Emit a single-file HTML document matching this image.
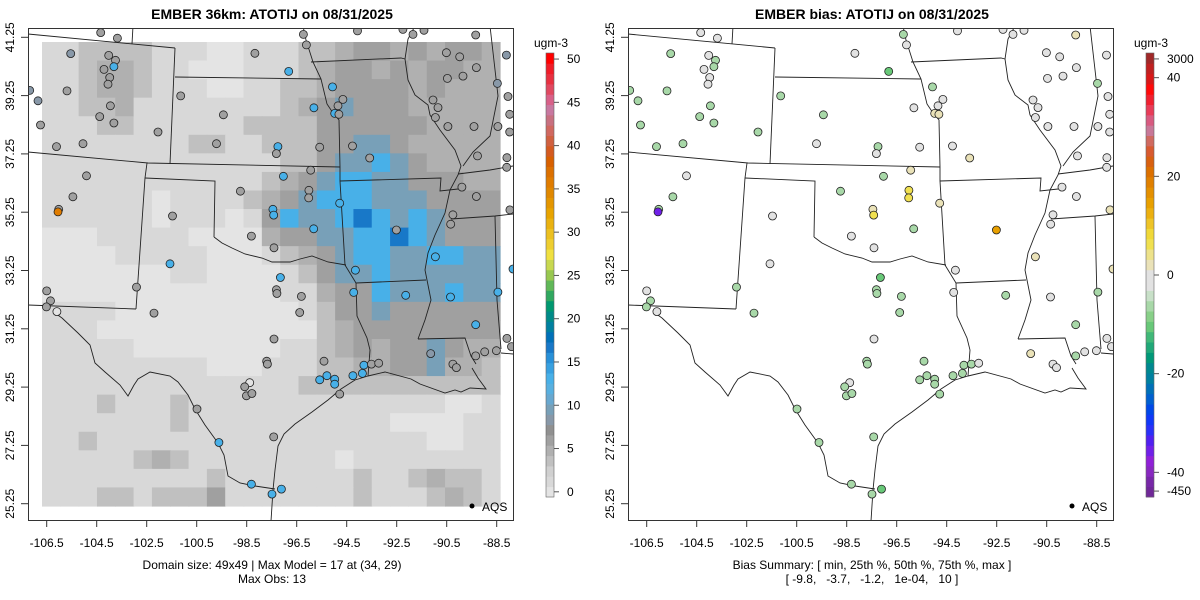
<!DOCTYPE html>
<html><head><meta charset="utf-8"><style>
html,body{margin:0;padding:0;background:#fff;}
svg{display:block;font-family:"Liberation Sans",sans-serif;}
</style></head><body>
<svg id="root" width="1200" height="600" viewBox="0 0 1200 600" xmlns="http://www.w3.org/2000/svg">
<defs>
<clipPath id="clipL"><rect x="28" y="28" width="485" height="493"/></clipPath>
<clipPath id="clipR"><rect x="628" y="28" width="485" height="493"/></clipPath>
</defs>
</svg>
<script>
// ---------- DATA ----------
const lonTicks = [-106.5,-104.5,-102.5,-100.5,-98.5,-96.5,-94.5,-92.5,-90.5,-88.5];
const latTicks = [41.25,39.25,37.25,35.25,33.25,31.25,29.25,27.25,25.25];
const concTicks = [0,5,10,15,20,25,30,35,40,45,50];
const biasTickVals = [43.8,40,20,0,-20,-40,-43.8];
const biasTickLabels = ["3000","40","20","0","-20","-40","-450"];
const concColors = ["#e4e4e4","#d8d8d8","#d0d0d0","#c0c0c0","#b0b0b0","#a0a0a0","#909090","#8898a8","#78a0b8","#68a8d0","#58b0e0","#48b0e8","#38a0e0","#2890d8","#1878c8","#0070b8","#0080a0","#008a88","#009870","#30a860","#60b858","#98c850","#c8d850","#f0e040","#eece30","#ecc020","#eab210","#e8a400","#e49600","#e08800","#e07c00","#dc7000","#d86000","#d45a20","#d06040","#d06860","#c87080","#c878a0","#d86088","#e04860","#e83040","#f01c28","#ff0000"];
const biasColors = ["#702898","#7828a8","#8828c0","#9020d8","#7020e8","#5020f0","#2a30f8","#1038f8","#0048e8","#0060d0","#0070b8","#0080a0","#008890","#009878","#20a878","#40b878","#68c878","#88d088","#a8d8a8","#c8e0c8","#e2e2e2","#e2e2e2","#eae2b8","#ede28a","#f0e050","#f0d838","#eec428","#ecb010","#e8a000","#e49000","#e08000","#dc7000","#d86010","#d85a30","#d06a60","#c87898","#d85a80","#e83c58","#f02030","#ff0a0a","#d81818","#c02020","#a02828"];
// model grid (coarse), digits index into levelValues (ugm-3)
const levelValues = [0,1.5,3,5,6.2,10,13,17];
const gridRows = [
"1122221110011122344343443","1123321100011123443434433","1123321110011223444434333",
"1122311111111234544433333","1112211111122224444443333","1111111122112224455433333",
"1111111111111224556543333","1111111111112345665544433","1111110111123456665554444",
"1111110111014655676565444","0001111100003445566765444","0000111110001234566556655",
"0000000110000124556555555","0000000000000113446555655","1111000000000012445444444",
"1110000000000002344444444","1111100000000112343445433","1111111110001112233445332",
"1111111111111122222222222","1112111211111111111111001","1111111211111111111000011",
"1121111111111111111110011","1111123211111111011111111","1111111112111111121123221",
"1112212224111111121112321"];
// stations
const stLon = [-104.34,-103.67,-105.54,-104.02,-103.75,-103.81,-104.21,-103.98,-104.05,-105.69,-107.18,-106.85,-103.95,-104.38,-103.81,-106.75,-106.11,-105.05,-102.05,-101.14,-99.43,-99.71,-98.17,-96.82,-96.23,-96.11,-94.07,-92.25,-91.85,-91.41,-89.34,-95.07,-94.65,-95.81,-94.85,-94.98,-94.81,-90.51,-89.98,-89.31,-90.47,-89.85,-88.11,-88.47,-88.05,-91.05,-90.85,-90.95,-90.45,-89.41,-88.45,-87.98,-87.98,-97.25,-97.31,-95.58,-94.27,-93.58,-95.94,-97.03,-89.27,-88.09,-88.10,-104.91,-105.45,-106.02,-106.05,-98.75,-96.01,-96.02,-94.78,-97.45,-97.42,-89.89,-89.31,-87.97,-90.25,-90.34,-101.47,-95.82,-98.31,-92.51,-97.41,-101.57,-90.95,-94.15,-97.15,-87.85,-97.31,-97.29,-96.31,-94.22,-92.14,-90.35,-88.45,-102.91,-106.50,-106.35,-106.51,-106.09,-102.21,-96.38,-89.34,-97.41,-88.09,-87.91,-88.51,-88.98,-89.34,-91.14,-95.41,-97.70,-97.67,-93.81,-93.51,-93.22,-93.87,-94.25,-90.25,-90.11,-95.58,-95.29,-94.98,-94.98,-98.38,-98.58,-98.51,-98.29,-94.78,-100.49,-99.61,-97.42,-98.31,-97.49,-97.11];
const stLat = [41.41,41.22,40.69,40.63,40.46,40.24,40.15,39.87,39.64,39.41,39.43,39.07,38.90,38.53,38.31,38.24,37.50,37.60,38.00,39.24,38.59,37.60,40.70,40.08,41.35,40.99,41.47,41.52,41.35,41.49,41.33,39.55,39.12,38.83,38.90,38.64,38.61,40.72,40.58,40.21,39.84,39.92,40.64,39.67,39.22,39.10,38.84,38.50,38.19,38.19,38.19,38.61,38.00,37.50,37.26,37.48,37.52,37.11,36.69,36.48,37.18,37.12,36.79,36.50,35.78,35.35,35.26,35.97,36.00,35.74,35.56,35.35,35.15,36.11,35.79,35.33,35.16,34.84,35.12,34.68,34.43,34.64,34.03,33.48,33.72,33.26,33.01,33.30,32.59,32.46,32.36,32.50,32.40,32.34,32.51,32.68,32.55,32.21,32.00,31.84,31.79,31.81,31.39,30.90,30.92,30.64,30.50,30.46,30.32,30.40,30.14,30.14,30.04,30.00,30.04,30.07,29.72,29.64,30.04,29.92,29.50,29.64,29.52,29.35,29.40,29.26,28.95,29.03,29.01,28.50,27.35,27.54,25.92,25.58,25.75];
const stObs = [6,6,8.5,6,6,13,6,6,6,6,8.5,8.5,6,6,6,6,6,6,6,6,6,6,6,13,6,6,6,6,6,6,6,13,6,13,6,13,6,6,6,6,6,6,8.5,8.5,6,6,6,6,6,6,6,6,6,13,6,6,6,6,6,13,6,6,6,6,6,6,36,6,6,6,13,13,13,6,6,6,6,6,6,13,6,6,6,13,13,13,13,13,6,6,6,13,13,13,13,6,6,6,6,0,6,6,13,6,6,6,6,6,6,8.5,6,6,6,13,6,6,13,13,6,6,13,13,13,13,0,6,6,6,6,6,13,6,13,13,13];
const stBias = [0,0,-7,0,-7,-7,0,0,0,-7,-7,-7,-7,-7,-7,-7,-7,-7,-7,-7,-7,0,0,-10,-7,0,0,0,0,0,3,-7,0,0,0,3,3,0,0,0,0,0,0,-7,0,0,0,0,0,0,0,0,0,-7,0,0,0,3,3,-7,0,0,0,0,-7,-7,-35,-7,7,7,3,3,7,0,0,3,0,0,0,-7,0,15,0,0,3,0,-10,3,-7,-7,-7,0,-7,0,-7,-7,0,-7,-7,0,-7,-7,-7,0,0,0,0,0,-7,3,-7,-7,-7,-7,-7,0,-7,-7,0,0,-7,-7,-7,-7,0,-7,-7,-7,-7,-7,-7,-7,-7,-7,-10];

// ---------- SCALES ----------
const NS = "http://www.w3.org/2000/svg";
const root = document.getElementById('root');
const xOf = lon => 46.7 + (lon + 106.5) * 25;
const yOf = lat => 37.3 + (41.25 - lat) * 29.15;
const CMIN=-0.6, CMAX=50.7, BMIN=-45, BMAX=45, BAR_TOP=53, BAR_BOT=497;
const concColor = v => concColors[Math.max(0,Math.min(concColors.length-1,Math.floor((v-CMIN)/(CMAX-CMIN)*concColors.length)))];
const biasColor = v => biasColors[Math.max(0,Math.min(biasColors.length-1,Math.floor((v-BMIN)/(BMAX-BMIN)*biasColors.length)))];
const yConc = v => BAR_BOT - (v-CMIN)/(CMAX-CMIN)*(BAR_BOT-BAR_TOP);
const yBias = v => BAR_BOT - (v-BMIN)/(BMAX-BMIN)*(BAR_BOT-BAR_TOP);

function mk(tag, attrs, parent){
  const e=document.createElementNS(NS,tag);
  for(const k in attrs) e.setAttribute(k,attrs[k]);
  (parent||root).appendChild(e); return e;
}
function txt(parent,x,y,s,size,anchor,extra){
  const t=mk('text',Object.assign({x:x,y:y,'font-size':size,'text-anchor':anchor||'middle',fill:'#000'},extra||{}),parent);
  t.textContent=s; return t;
}

const boundaries = [
 [[28,34],[175,48]],[[133,26],[132,44]],[[175,48],[170,164]],[[175,77],[321,79]],
 [[28,152],[148,163],[340,167]],[[147,163],[145,178],[136,309]],[[28,305],[136,309]],
 [[145,178],[215,181],[214,237]],
 [[214,237],[222,243],[232,248],[245,254],[262,258],[272,262],[290,262],[300,259],[312,256],[328,262],[346,265]],
 [[303,26],[306,40],[313,62],[321,79],[327,104],[333,113],[339,120],[340,167],[340,181],[345,265]],
 [[340,181],[441,178],[440,191],[458,189]],[[356,283],[426,280]],
 [[345,265],[356,283],[357,316],[367,338],[370,350],[368,376]],
 [[368,376],[355,380],[341,389],[328,400],[312,412],[295,424],[284,434],[278,446],[275,470],[273,490],[271,521]],
 [[55,313],[62,318],[78,333],[90,345],[95,363],[105,372],[120,385],[128,396],[134,385],[138,379],[150,372],[170,376],[178,382],[188,395],[195,409],[205,425],[218,443],[224,455],[228,476],[240,483],[255,486],[275,489]],
 [[415,26],[408,39],[405,59],[408,80],[415,95],[428,105],[430,115],[440,130],[455,150],[461,166],[458,175],[450,190],[445,213],[435,235],[428,253],[425,270],[431,300],[425,320],[418,339]],
 [[311,62],[401,58],[405,59]],[[418,339],[465,338],[471,356],[476,364]],
 [[368,376],[385,372],[411,379],[420,384],[445,393],[455,390],[461,392],[470,388],[486,389],[478,378],[472,368]],
 [[458,174],[490,170],[513,166]],[[451,219],[495,216],[513,214]],[[495,216],[497,300],[501,349]],
 [[501,353],[513,354]],[[490,26],[498,96],[490,136],[473,152],[463,166]]
];

function panel(off, kind){
  const g=mk('g',{});
  
  
  const inner=mk('g',{'clip-path': off? 'url(#clipR)':'url(#clipL)'},g);
  if(kind==='conc'){
    const rg=mk('g',{},inner);
    
    
    const x0=42,y0=42,cw=458/25,ch=464/25;
    gridRows.forEach((row,r)=>{
      for(let c=0;c<row.length;c++){
        const v=levelValues[+row[c]];
        const cell=mk('rect',{x:(x0+c*cw).toFixed(2),y:(y0+r*ch).toFixed(2),width:(cw+0.6).toFixed(2),height:(ch+0.6).toFixed(2),fill:concColor(v)},rg);
        
        
      }
    });
  }
  const bg=mk('g',{transform:`translate(${off},0)`,fill:'none',stroke:'#222','stroke-width':'0.9'},inner);
  
  
  boundaries.forEach(b=>{mk('polyline',{points:b.map(p=>p.join(',')).join(' ')},bg);});
  const pg=mk('g',{},inner);
  
  
  for(let i=0;i<stLon.length;i++){
    const col = kind==='conc'? concColor(stObs[i]) : biasColor(stBias[i]);
    const c=mk('circle',{cx:(off+xOf(stLon[i])).toFixed(1),cy:yOf(stLat[i]).toFixed(1),r:4,fill:col,stroke:'#222','stroke-width':'0.8'},pg);
    
    
  }
  const fr=mk('rect',{x:off+28.5,y:28.5,width:485,height:492,fill:'none',stroke:'#333','stroke-width':1},g);
  
  
  const xa=mk('g',{},g);
  
  
  lonTicks.forEach(l=>{
    const x=off+xOf(l);
    mk('line',{x1:x,x2:x,y1:521,y2:527,stroke:'#333'},xa);
    const t=txt(xa,x,547,String(l),12);
    
    
  });
  const ya=mk('g',{},g);
  
  
  latTicks.forEach(l=>{
    const y=yOf(l);
    mk('line',{x1:off+21,x2:off+28.5,y1:y,y2:y,stroke:'#333'},ya);
    const t=txt(ya,off+14,y,l.toFixed(2),12,'middle',{transform:`rotate(-90 ${off+14} ${y})`});
    
    
  });
  const lg=mk('g',{},g);
  
  
  mk('circle',{cx:off+472,cy:506,r:2.5,fill:'#000'},lg);
  txt(lg,off+482,511,'AQS',12,'start');
  const cb=mk('g',{},g);
  
  
  const bx = off+546;
  const cols = kind==='conc'?concColors:biasColors;
  const sh=(BAR_BOT-BAR_TOP)/cols.length;
  cols.forEach((c,i)=>{mk('rect',{x:bx,y:(BAR_BOT-(i+1)*sh).toFixed(2),width:8,height:(sh+0.4).toFixed(2),fill:c},cb);});
  mk('rect',{x:bx,y:BAR_TOP,width:8,height:BAR_BOT-BAR_TOP,fill:'none',stroke:'#666','stroke-width':0.6},cb);
  txt(cb,off+551,47,'ugm-3',12);
  if(kind==='conc'){
    concTicks.forEach(v=>{const y=yConc(v);mk('line',{x1:bx+8,x2:bx+13,y1:y,y2:y,stroke:'#555'},cb);
      const t=txt(cb,bx+21,y+4,String(v),12,'start');
      
      });
  } else {
    biasTickVals.forEach((v,i)=>{const y=yBias(v);mk('line',{x1:bx+8,x2:bx+13,y1:y,y2:y,stroke:'#555'},cb);
      const t=txt(cb,bx+21,y+4,biasTickLabels[i],12,'start');
      
      });
  }
}
panel(0,'conc');
panel(600,'bias');

const t1=txt(root,272,19,'EMBER 36km: ATOTIJ on 08/31/2025',14,'middle',{'font-weight':'bold'});


const t2=txt(root,872,19,'EMBER bias: ATOTIJ on 08/31/2025',14,'middle',{'font-weight':'bold'});


const c1=txt(root,272,569,'Domain size: 49x49 | Max Model = 17 at (34, 29)',12);


const c2=txt(root,272,583,'Max Obs: 13',12);


const c3=txt(root,872,569,'Bias Summary: [ min, 25th %, 50th %, 75th %, max ]',12);


const c4=txt(root,872,583,'[ -9.8,   -3.7,   -1.2,   1e-04,   10 ]',12,'middle',{'xml:space':'preserve'});


c4.style.whiteSpace='pre';
</script>
</body></html>
